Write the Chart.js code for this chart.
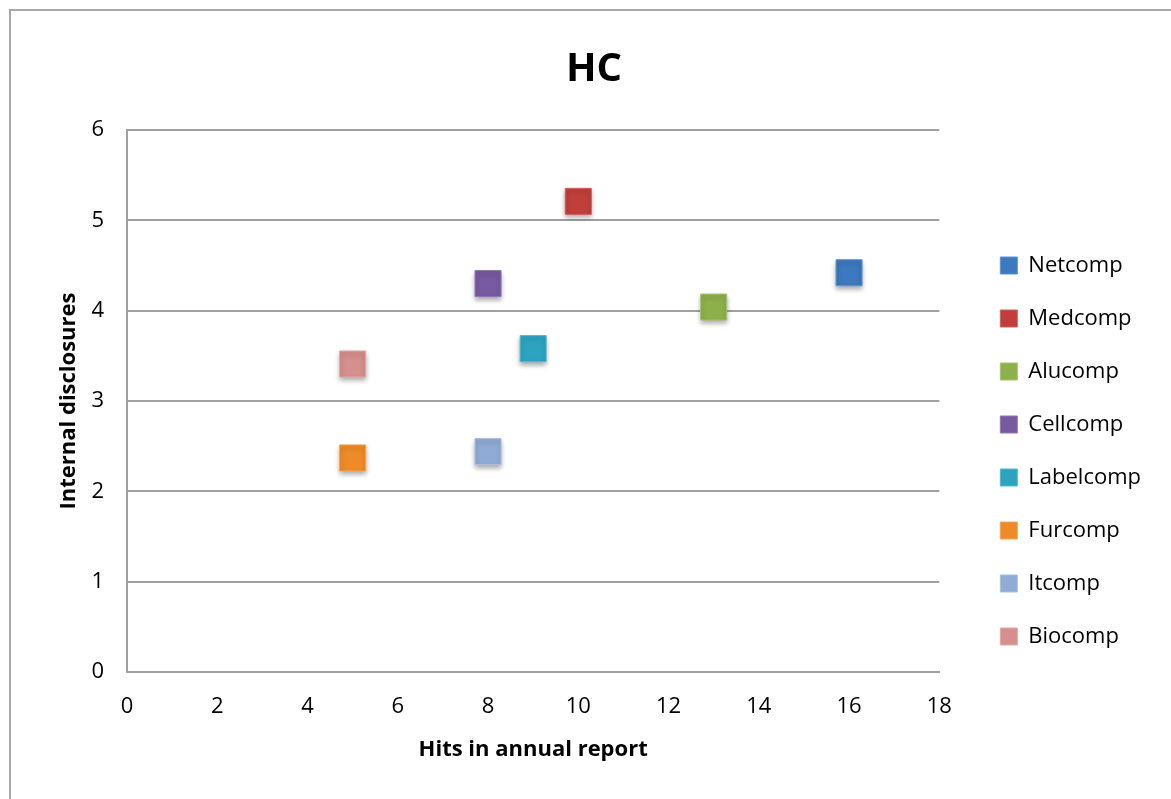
<!DOCTYPE html>
<html>
<head>
<meta charset="utf-8">
<script src="https://cdn.jsdelivr.net/npm/chart.js@4"></script>
<style>
  html, body { margin: 0; padding: 0; background: #fff; }
  #wrap { width: 1171px; height: 799px; }
</style>
</head>
<body>
<div id="wrap"><canvas id="myChart" width="1171" height="799"></canvas></div>
<script>
// DATA
const companies = ['Netcomp', 'Medcomp', 'Alucomp', 'Cellcomp', 'Labelcomp', 'Furcomp', 'Itcomp', 'Biocomp'];
const hits = [16, 10, 13, 8, 9, 5, 8, 5];
const disclosures = [4.42, 5.21, 4.04, 4.30, 3.58, 2.37, 2.44, 3.41];
const fillColors = ['#3c79be', '#c13f3a', '#8eb04b', '#775aa0', '#2ca4c0', '#ee8b28', '#90abd5', '#d48f8e'];
const edgeColors = ['#5f93cf', '#d0605b', '#a6c46a', '#8f76b3', '#52b8d0', '#f6a453', '#a9c0e0', '#e0aaa9'];
const xTicks = [0, 2, 4, 6, 8, 10, 12, 14, 16, 18];
const yTicks = [0, 1, 2, 3, 4, 5, 6];

const FONT = "'Open Sans', sans-serif";
Chart.defaults.font.family = FONT;
Chart.defaults.color = '#000';

// outer frame round the chart
const framePlugin = {
    id: 'frame',
    beforeDraw(chart){
        const c = chart.ctx;
        c.save();
        c.strokeStyle = '#a8a8a8';
        c.lineWidth = 2;
        c.strokeRect(10, 10, 2000, 2000);
        c.restore();
    }
};

// soft shadow under the markers
const shadowPlugin = {
    id: 'shadow',
    beforeDatasetsDraw(chart){
        const c = chart.ctx;
        c.save();
        c.shadowColor = 'rgba(0,0,0,0.35)';
        c.shadowBlur = 5;
        c.shadowOffsetY = 3;
    },
    afterDatasetsDraw(chart){
        chart.ctx.restore();
    }
};

const ctx = document.querySelector('#myChart').getContext('2d');

const datasets = companies.map((name, i) => ({
    label: name,
    data: [{x: hits[i], y: disclosures[i]}],
    backgroundColor: fillColors[i],
    borderColor: edgeColors[i],
    borderWidth: 1,
    pointStyle: 'rect',
    pointRadius: 18.4,
    pointHoverRadius: 18.4
}));

const myChart = new Chart(ctx, {
    type: 'scatter',
    data: { datasets: datasets },
    plugins: [framePlugin, shadowPlugin],
    options: {
        responsive: false,
        animation: false,
        layout: { padding: { left: 37, right: 20, top: 0, bottom: 0 } },
        plugins: {
            tooltip: { enabled: false },
            title: {
                display: true,
                text: 'HC',
                font: { size: 40, weight: 'bold' },
                padding: { top: 46, bottom: 36 }
            },
            legend: {
                position: 'right',
                title: {
                    // empty title, only pushes the items down
                    display: true,
                    text: ' ',
                    font: { size: 10 },
                    padding: { top: 46, bottom: 45 }
                },
                labels: {
                    boxWidth: 17,
                    boxHeight: 17,
                    padding: 31,
                    font: { size: 22 },
                    color: '#000'
                }
            }
        },
        scales: {
            x: {
                type: 'linear',
                min: 0,
                max: 18,
                afterBuildTicks: s => { s.ticks = xTicks.map(v => ({value: v})); },
                afterFit: s => { s.height = 127; },
                grid: { display: false, drawTicks: false },
                border: { display: true, color: '#a0a0a0', width: 2 },
                ticks: { padding: 22, font: { size: 22 }, maxRotation: 0 },
                title: {
                    display: true,
                    text: 'Hits in annual report',
                    font: { size: 22, weight: 'bold' },
                    padding: { top: 0, bottom: 36 }
                }
            },
            y: {
                type: 'linear',
                min: 0,
                max: 6,
                afterBuildTicks: s => { s.ticks = yTicks.map(v => ({value: v})); },
                afterFit: s => { s.width = 90; },
                grid: { color: '#a0a0a0', lineWidth: 2, drawTicks: false },
                border: { display: true, color: '#a0a0a0', width: 2 },
                ticks: { padding: 23, font: { size: 22 } },
                title: {
                    display: true,
                    text: 'Internal disclosures',
                    font: { size: 22, weight: 'bold' },
                    padding: { top: 19, bottom: 0 }
                }
            },
            gap: {
                type: 'linear',
                position: 'right',
                display: true,
                afterFit: s => { s.width = 30; },
                grid: { display: false, drawTicks: false },
                border: { display: false },
                ticks: { display: false }
            }
        }
    }
});
</script>
</body>
</html>
